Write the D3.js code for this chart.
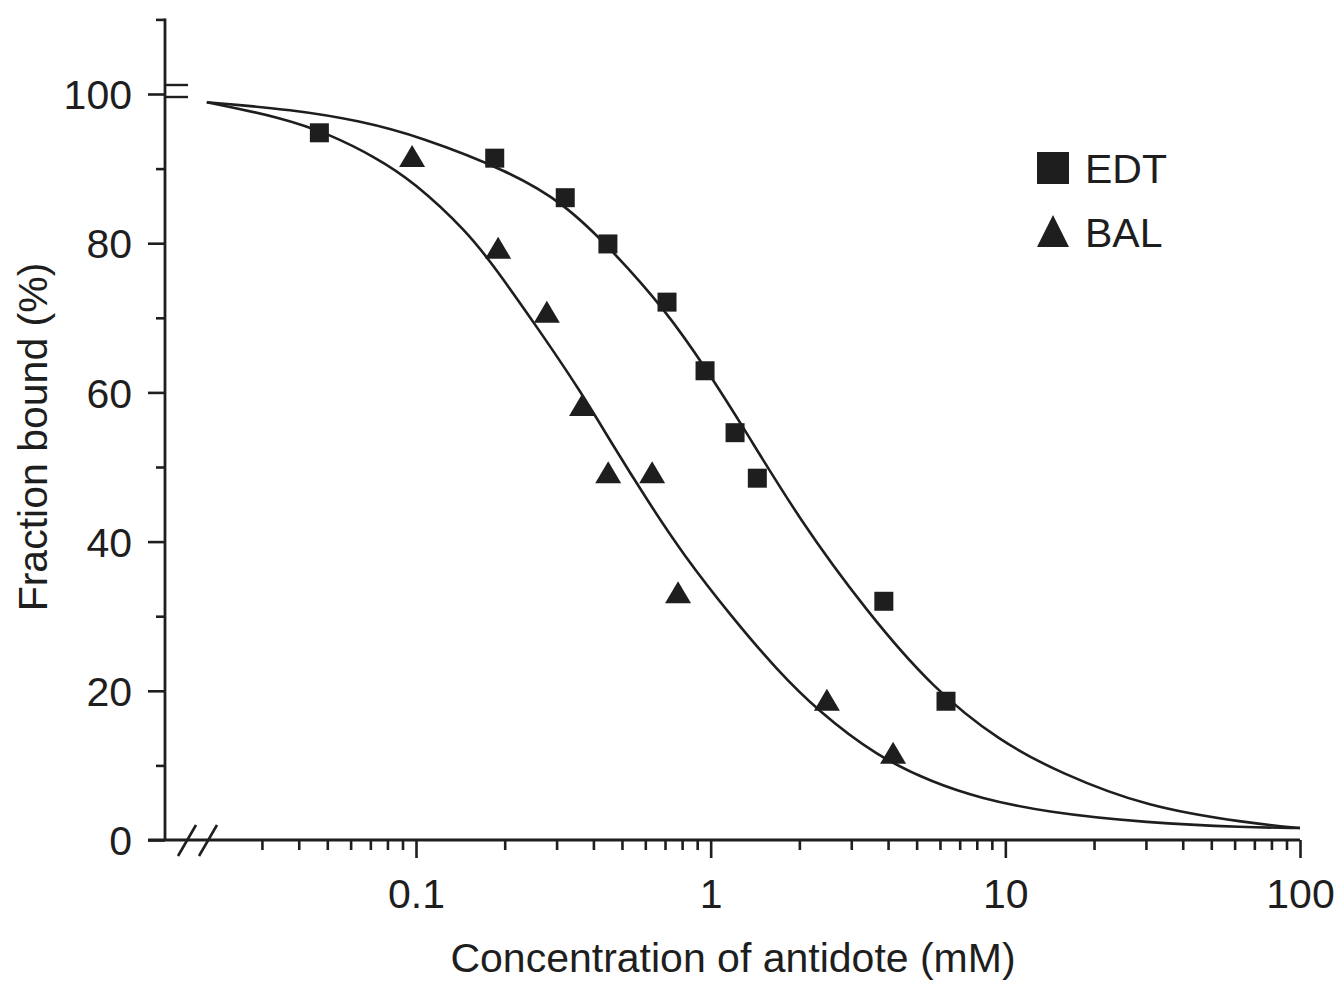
<!DOCTYPE html>
<html>
<head>
<meta charset="utf-8">
<script src="https://cdn.jsdelivr.net/npm/d3@7"></script>
<style>
  body { margin: 0; background: #fff; }
  text { font-family: "Liberation Sans", Arial, Helvetica, sans-serif; fill: #1e1e1e; }
</style>
</head>
<body>
<svg id="chart" width="1341" height="981"></svg>
<script>
// measured points (concentration mM, fraction bound %)
const edtConc  = [0.047, 0.185, 0.321, 0.448, 0.711, 0.957, 1.21, 1.44, 3.87, 6.29];
const edtBound = [94.8, 91.4, 86.1, 79.9, 72.1, 62.9, 54.6, 48.5, 32.0, 18.6];

const balConc  = [0.097, 0.190, 0.278, 0.366, 0.449, 0.633, 0.775, 2.48, 4.16];
const balBound = [91.7, 79.4, 70.8, 58.3, 49.3, 49.3, 33.2, 18.8, 11.7];

// fitted curves
const edtCurveConc  = [0.0195, 0.0383, 0.0646, 0.103, 0.208, 0.316, 0.455, 0.711, 0.971, 1.287, 2.01, 3.39, 5.68, 9.59, 15.3, 30.2, 66.0, 100];
const edtCurveBound = [98.9, 97.9, 96.4, 94.3, 89.6, 85.4, 79.4, 70.8, 63.0, 55.4, 42.8, 30.6, 20.3, 13.2, 9.0, 4.4, 2.3, 1.6];

const balCurveConc  = [0.0195, 0.0345, 0.0511, 0.0737, 0.0977, 0.149, 0.188, 0.257, 0.360, 0.466, 0.608, 0.805, 1.19, 1.68, 2.30, 3.67, 5.68, 8.20, 13.8, 30.2, 66.0, 100];
const balCurveBound = [98.9, 96.9, 94.6, 91.4, 88.3, 81.6, 76.4, 68.8, 60.3, 52.9, 45.6, 38.3, 29.7, 22.8, 17.4, 11.2, 7.7, 5.6, 3.7, 2.3, 1.7, 1.6];

const xMajor = [0.1, 1, 10, 100];
const xLabels = ["0.1", "1", "10", "100"];
const xMinor = [0.03, 0.04, 0.05, 0.06, 0.07, 0.08, 0.09,
                0.2, 0.3, 0.4, 0.5, 0.6, 0.7, 0.8, 0.9,
                2, 3, 4, 5, 6, 7, 8, 9,
                20, 30, 40, 50, 60, 70, 80, 90];
const yMajor = [0, 20, 40, 60, 80, 100];
const yMinor = [10, 30, 50, 70, 90, 110];

const svg = d3.select('#chart');
const ink = '#1e1e1e';

const x = d3.scaleLog().domain([0.1, 100]).range([416, 1300]);
const y = d3.scaleLinear().domain([0, 100]).range([840, 94]);

const x0 = 165;       // y axis position
const y0 = y(0);      // x axis position

// ---- x axis
const xAxisG = svg.append('g').attr('transform', 'translate(0,' + y0 + ')');
xAxisG.call(d3.axisBottom(x).tickValues(xMajor).tickSize(18)
        .tickFormat((d, i) => xLabels[i]));
xAxisG.append('g').call(d3.axisBottom(x).tickValues(xMinor).tickSize(10).tickFormat(''));
xAxisG.selectAll('.domain').remove();
xAxisG.selectAll('line').attr('stroke', ink).attr('stroke-width', 2.6);
xAxisG.selectAll('text').attr('y', 68).attr('dy', 0)
    .style('font-size', '41px').attr('fill', ink);
xAxisG.append('line')
    .attr('x1', 148).attr('x2', x(100)).attr('y1', 0).attr('y2', 0)
    .attr('stroke', ink).attr('stroke-width', 2.8);
// axis break "//"
[187, 208].forEach(cx => {
    xAxisG.append('line')
        .attr('x1', cx - 9).attr('y1', 16).attr('x2', cx + 9).attr('y2', -15)
        .attr('stroke', ink).attr('stroke-width', 2.6);
});

// ---- y axis
const yAxisG = svg.append('g').attr('transform', 'translate(' + x0 + ',0)');
yAxisG.call(d3.axisLeft(y).tickValues(yMajor).tickSize(17));
yAxisG.append('g').call(d3.axisLeft(y).tickValues(yMinor).tickSize(9).tickFormat(''));
yAxisG.selectAll('.domain').remove();
yAxisG.selectAll('line').attr('stroke', ink).attr('stroke-width', 2.6);
yAxisG.selectAll('text').attr('x', -33).attr('dy', '0.36em')
    .style('font-size', '41px').attr('fill', ink);
yAxisG.append('line')
    .attr('x1', 0).attr('x2', 0).attr('y1', y(110) - 1).attr('y2', y0 + 1)
    .attr('stroke', ink).attr('stroke-width', 2.8);
// axis break "="
[y(100) - 9, y(100) + 3].forEach(yy => {
    yAxisG.append('line')
        .attr('x1', 0).attr('x2', 23).attr('y1', yy).attr('y2', yy)
        .attr('stroke', ink).attr('stroke-width', 2.4);
});

// ---- axis titles
svg.append('text')
    .attr('x', 733).attr('y', 972)
    .attr('text-anchor', 'middle')
    .style('font-size', '41px')
    .text('Concentration of antidote (mM)');

svg.append('text')
    .attr('transform', 'translate(47,437) rotate(-90)')
    .attr('text-anchor', 'middle')
    .style('font-size', '41px')
    .text('Fraction bound (%)');

// ---- curves
const line = d3.line()
    .x(d => x(d[0]))
    .y(d => y(d[1]))
    .curve(d3.curveBasis);

const edtCurve = edtCurveConc.map((c, i) => [c, edtCurveBound[i]]);
const balCurve = balCurveConc.map((c, i) => [c, balCurveBound[i]]);

[edtCurve, balCurve].forEach(c => {
    svg.append('path')
        .attr('d', line(c))
        .attr('fill', 'none')
        .attr('stroke', ink)
        .attr('stroke-width', 2.6);
});

// ---- points
const edt = edtConc.map((c, i) => ({conc: c, bound: edtBound[i]}));
const bal = balConc.map((c, i) => ({conc: c, bound: balBound[i]}));

const sq = 19;
svg.selectAll('rect.edt')
    .data(edt)
    .enter()
    .append('rect')
    .attr('class', 'edt')
    .attr('x', d => x(d.conc) - sq / 2)
    .attr('y', d => y(d.bound) - sq / 2)
    .attr('width', sq)
    .attr('height', sq)
    .attr('fill', ink);

const tri = (w, h) => 'M0,' + (-h / 2) + 'L' + (w / 2) + ',' + (h / 2) + 'L' + (-w / 2) + ',' + (h / 2) + 'Z';

svg.selectAll('path.bal')
    .data(bal)
    .enter()
    .append('path')
    .attr('class', 'bal')
    .attr('d', tri(26, 22))
    .attr('transform', d => 'translate(' + x(d.conc) + ',' + y(d.bound) + ')')
    .attr('fill', ink);

// ---- legend
const legend = svg.append('g');
legend.append('rect')
    .attr('x', 1037).attr('y', 152).attr('width', 32).attr('height', 32)
    .attr('fill', ink);
legend.append('path')
    .attr('d', tri(32, 32))
    .attr('transform', 'translate(1053,231)')
    .attr('fill', ink);
legend.append('text').attr('x', 1085).attr('y', 183)
    .style('font-size', '41px').text('EDT');
legend.append('text').attr('x', 1085).attr('y', 247)
    .style('font-size', '41px').text('BAL');
</script>
</body>
</html>
